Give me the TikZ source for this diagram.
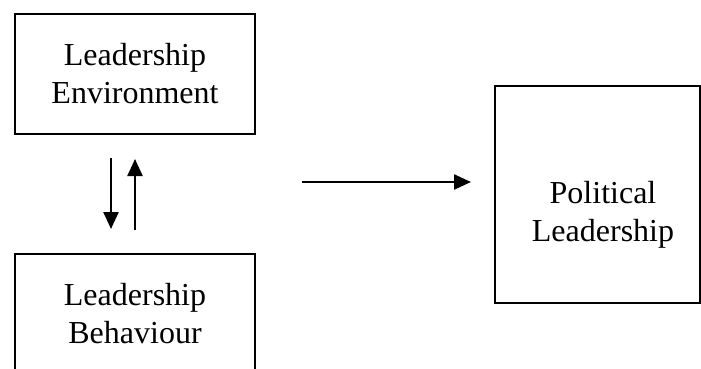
\documentclass[tikz,border=0pt]{standalone}
\usepackage{fontspec}
\setmainfont{Liberation Serif}
\usetikzlibrary{calc,arrows.meta}
\begin{document}
\begin{tikzpicture}[
    x=1pt, y=-1pt,
    bloc/.style={draw, line width=2pt, align=center, inner sep=0pt},
    fleche/.style={line width=2.4pt, -{Triangle[length=17pt,width=15pt]}},
    font=\fontsize{32}{38}\selectfont
]
\useasboundingbox (0,0) rectangle (701,369);

% Blocs de gauche
\node[bloc, minimum width=240pt, minimum height=120pt] (env) at (135,74) {Leadership\\Environment};
\node[bloc, minimum width=240pt, minimum height=120pt] (beh) at (135,314) {Leadership\\Behaviour};

% Bloc de droite
\node[bloc, minimum width=205pt, minimum height=217pt] (pol) at (597.5,194.5) {};
\node[align=center] (poltxt) at (603,214.5) {Political\\Leadership};

% Points des fleches
\coordinate (d1) at ($(env.south)+(-24,23)$);
\coordinate (d2) at ($(beh.north)+(-24,-24)$);
\coordinate (u1) at ($(beh.north)+(0,-23)$);
\coordinate (u2) at ($(env.south)+(0,24)$);
\coordinate (h1) at (302,182);
\coordinate (h2) at ($(pol.west)+(-23,-12.5)$);

% Fleches
\draw[fleche] (d1) -- (d2);
\draw[fleche] (u1) -- (u2);
\draw[fleche] (h1) -- (h2);

\end{tikzpicture}
\end{document}
